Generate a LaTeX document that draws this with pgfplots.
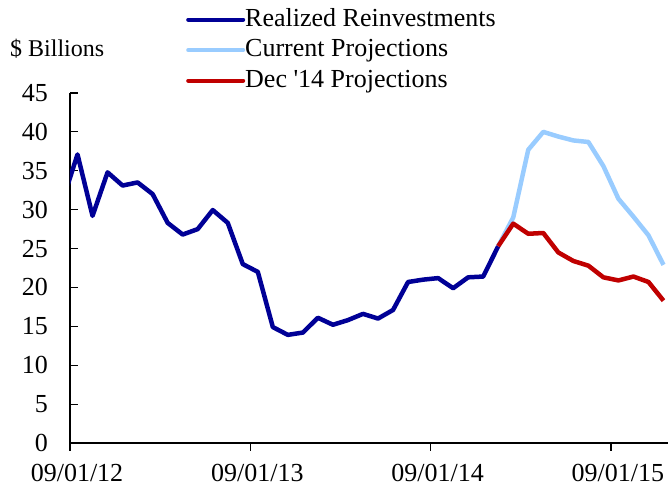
\documentclass[border=0pt]{standalone}
\usepackage{fontspec}
\setmainfont{Liberation Serif}
\usepackage{pgfplots}
\pgfplotsset{compat=1.18}

\definecolor{realized}{RGB}{0,0,150}
\definecolor{current}{RGB}{153,204,255}
\definecolor{decproj}{RGB}{192,0,0}

\begin{document}
\begin{tikzpicture}
\begin{axis}[
    name=ax,
    scale only axis,
    width=598pt, height=350pt,
    xmin=0, xmax=39.8, ymin=0, ymax=45,
    axis x line=bottom, axis y line=left,
    axis line style={-, line width=1.2pt},
    tick align=inside,
    major tick length=8pt,
    tick style={black, line width=1.2pt},
    x tick style={yshift=-8pt},
    xtick={0,12,24,36},
    xticklabels={09/01/12,09/01/13,09/01/14,09/01/15},
    ytick={0,5,...,45},
    /pgf/number format/assume math mode=true,
    tick label style={font=\fontsize{26}{30}\selectfont, inner sep=0pt},
    xticklabel style={anchor=north, yshift=-21pt, xshift=7pt},
    yticklabel style={anchor=east, xshift=-22pt},
    legend style={at={(0.194,1.246)}, anchor=north west, draw=none, fill=none,
        font=\fontsize{26}{30}\selectfont, row sep=5.5pt, inner sep=0pt,
        nodes={inner sep=0pt, text height=19pt, text depth=6pt}},
    legend cell align=left,
    legend image code/.code={\draw[#1, line cap=round, line width=4pt] (0pt,0pt) -- (55pt,0pt);},
    every axis plot/.append style={line width=4.5pt, line join=round},
]
% realized reinvestments, months after 09/01/12
\addplot[realized] coordinates {
(-0.5,31.1) (0.5,37.1) (1.5,29.2) (2.5,34.8) (3.5,33.1) (4.5,33.5) (5.5,32.0)
(6.5,28.3) (7.5,26.8) (8.5,27.5) (9.5,29.95) (10.5,28.3) (11.5,23.0) (12.5,22.0)
(13.5,14.9) (14.5,13.9) (15.5,14.2) (16.5,16.1) (17.5,15.2) (18.5,15.8) (19.5,16.6)
(20.5,16.0) (21.5,17.1) (22.5,20.7) (23.5,21.0) (24.5,21.2) (25.5,19.9) (26.5,21.3)
(27.5,21.4) (28.5,25.3)
};
\addplot[current] coordinates {
(28.5,25.3) (29.5,29.0) (30.5,37.7) (31.5,40.0) (32.5,39.4) (33.5,38.9) (34.5,38.7)
(35.5,35.6) (36.5,31.4) (37.5,29.1) (38.5,26.7) (39.5,22.9)
};
\addplot[decproj] coordinates {
(28.5,25.3) (29.5,28.2) (30.5,26.9) (31.5,27.0) (32.5,24.5) (33.5,23.4) (34.5,22.8)
(35.5,21.3) (36.5,20.9) (37.5,21.4) (38.5,20.7) (39.5,18.3)
};
\legend{Realized Reinvestments, Current Projections, Dec \textquotesingle 14 Projections}
\end{axis}
\node[anchor=base west, inner sep=0pt, font=\fontsize{24}{28}\selectfont]
    at ([xshift=-60pt,yshift=36pt]ax.north west) {\$ Billions};
\pgfresetboundingbox
\path ([xshift=-70pt,yshift=-45pt]ax.south west) rectangle ([yshift=93pt]ax.north east);
\end{tikzpicture}
\end{document}
